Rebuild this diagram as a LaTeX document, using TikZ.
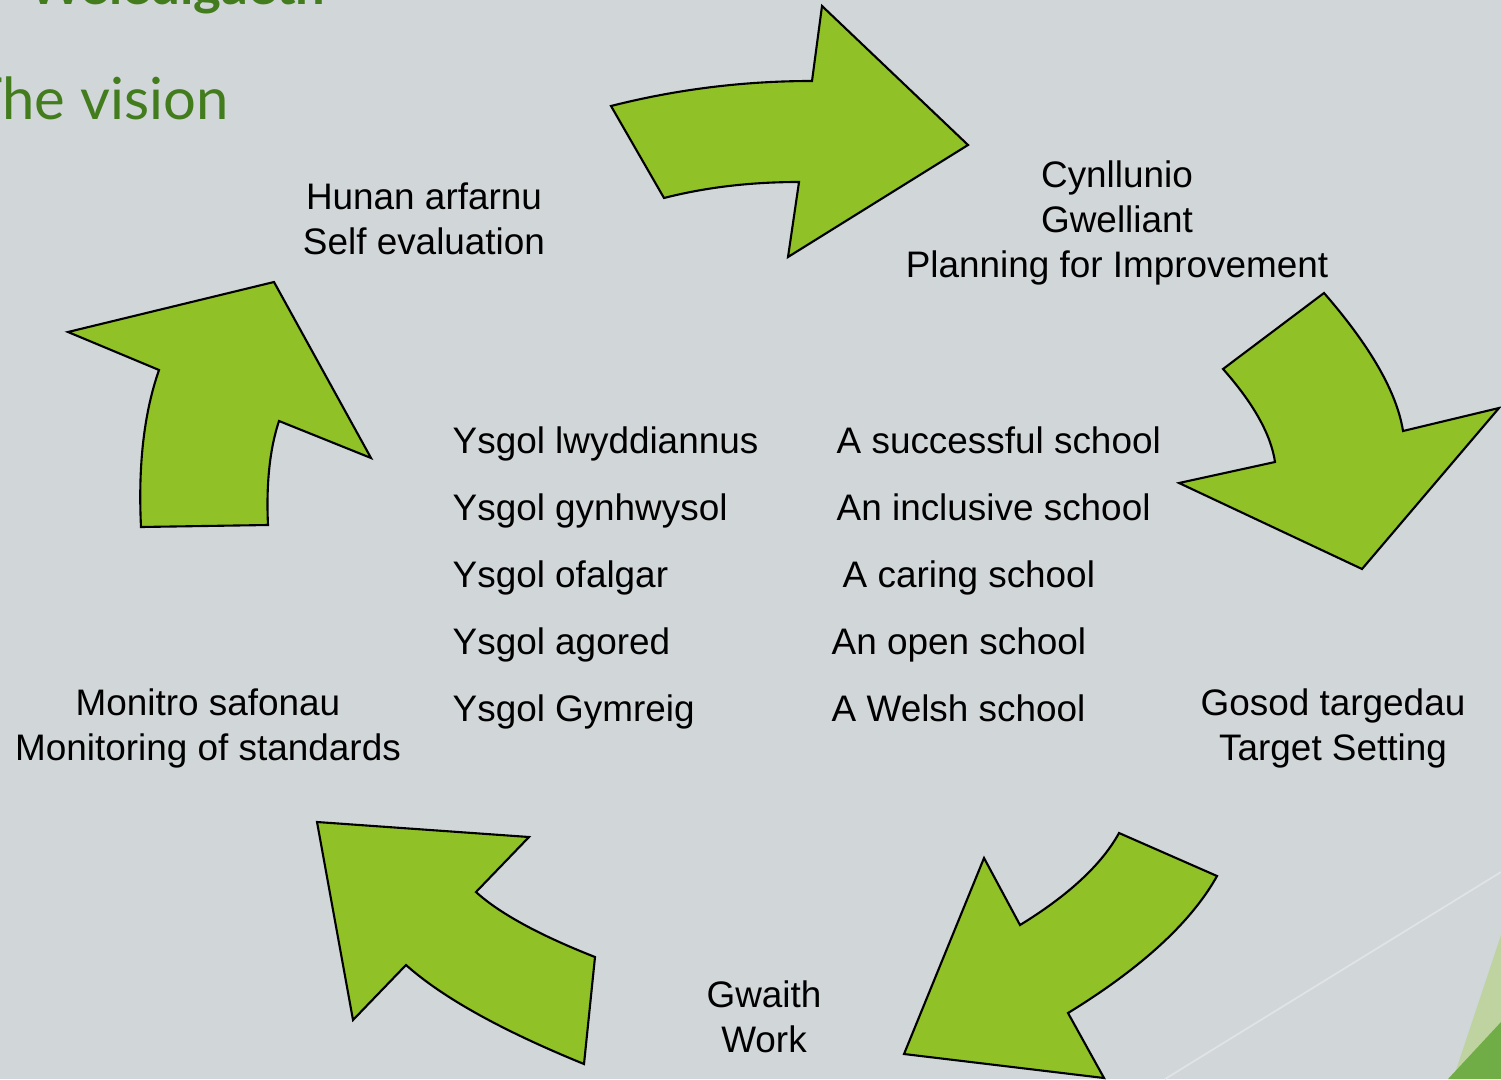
\documentclass[tikz,border=0pt]{standalone}
\usepackage{fontspec}
\setmainfont{Liberation Sans}
\newfontfamily\titlefont{Lato}
\usepackage{tikz}
\definecolor{slidegrey}{HTML}{D1D6D9}
\definecolor{arrowgreen}{HTML}{90C126}
\definecolor{titlegreen}{HTML}{427C1D}
\definecolor{cornergreen}{HTML}{70AD47}
\definecolor{palegreen}{HTML}{BED3A0}

\begin{document}
\begin{tikzpicture}[x=0.1mm,y=-0.1mm,
	cyclearrow/.style={fill=arrowgreen,draw=black,line width=0.6pt,line join=miter},
	steplabel/.style={font=\fontsize{10.5}{12.8}\selectfont,align=center,inner sep=0pt,anchor=base},
	rowtext/.style={font=\fontsize{10.5}{12.8}\selectfont,inner sep=0pt,anchor=base west},
	titletext/.style={text=titlegreen,inner sep=0pt,anchor=base west}]
	\useasboundingbox (0,0) rectangle (1501,1079);
	\clip (0,0) rectangle (1501,1079);
	\fill[slidegrey] (0,0) rectangle (1501,1079);
	\draw[white!35!slidegrey,line width=0.5pt] (1165,1079)--(1501,872);
	\fill[palegreen] (1501,935)--(1453,1079)--(1501,1079)--cycle;
	\fill[cornergreen] (1501,1022)--(1448,1079)--(1501,1079)--cycle;
	\node[titletext,font=\titlefont\bfseries\fontsize{15}{18}\selectfont] (weledigaeth) at (28,5) {Weledigaeth};
	\node[titletext,font=\titlefont\fontsize{16.5}{20}\selectfont] (vision) at (-32,120) {The vision};
	\draw[cyclearrow] (611,106) .. controls (678,89) and (745,81) .. (812,81)--(822,6)--(968,145)--(788,257)--(799,182) .. controls (752,182) and (707,187) .. (664,198)--cycle;
	\draw[cyclearrow] (1324,293) .. controls (1371,347) and (1397,393) .. (1403,431)--(1499,408)--(1362,569)--(1179,483)--(1275,462) .. controls (1271,435) and (1254,404) .. (1223,369)--cycle;
	\draw[cyclearrow] (1217,876) .. controls (1192,921) and (1143,967) .. (1068,1013)--(1104,1078)--(904,1054)--(984,858)--(1020,925) .. controls (1069,895) and (1102,864) .. (1119,833)--cycle;
	\draw[cyclearrow] (317,822)--(529,837)--(476,892) .. controls (499,913) and (539,935) .. (595,957)--(584,1064) .. controls (503,1031) and (443,998) .. (406,965)--(353,1020)--cycle;
	\draw[cyclearrow] (274,282)--(68,332)--(159,370) .. controls (144,413) and (138,465) .. (141,527)--(268,525) .. controls (266,483) and (270,448) .. (279,421)--(371,458)--cycle;
	\node[steplabel] (hunan) at (424,254) {Hunan arfarnu\\Self evaluation};
	\node[steplabel] (cynllunio) at (1117,277) {Cynllunio\\Gwelliant\\Planning for Improvement};
	\node[steplabel] (gosod) at (1333,760) {Gosod targedau\\Target Setting};
	\node[steplabel] (gwaith) at (764,1052) {Gwaith\\Work};
	\node[steplabel] (monitro) at (208,760) {Monitro safonau\\Monitoring of standards};
	\node[rowtext] (llwyddiannus) at (452,453) {Ysgol lwyddiannus};
	\node[rowtext] (cynhwysol) at (452,520) {Ysgol gynhwysol};
	\node[rowtext] (gofalgar) at (452,587) {Ysgol ofalgar};
	\node[rowtext] (agored) at (452,654) {Ysgol agored};
	\node[rowtext] (cymraeg) at (452,721) {Ysgol Gymreig};
	\node[rowtext] (successful) at (836,453) {A successful school};
	\node[rowtext] (inclusive) at (836,520) {An inclusive school};
	\node[rowtext] (caring) at (842,587) {A caring school};
	\node[rowtext] (open) at (831,654) {An open school};
	\node[rowtext] (welsh) at (831,721) {A Welsh school};
\end{tikzpicture}
\end{document}
